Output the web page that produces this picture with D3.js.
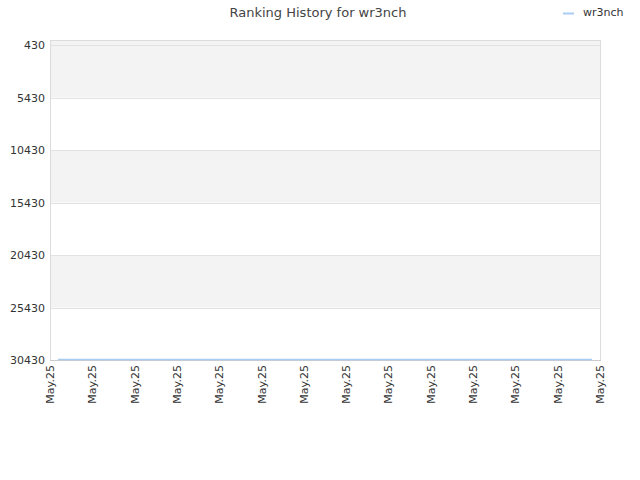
<!DOCTYPE html>
<html><head><meta charset="utf-8">
<script src="https://cdn.jsdelivr.net/npm/d3@7"></script>
<style>body{margin:0;background:#fff}svg{display:block}text{font-family:"DejaVu Sans",sans-serif}</style>
</head><body>
<svg id="c" width="640" height="480"></svg>
<script>
const xLabels = ["May.25","May.25","May.25","May.25","May.25","May.25","May.25","May.25","May.25","May.25","May.25","May.25","May.25","May.25"];
const yTicks = [430, 5430, 10430, 15430, 20430, 25430, 30430];
const seriesName = "wr3nch";
const ranks = [30390,30390,30390,30390,30390,30390,30390,30390,30390,30390,30390,30390,30390];

const svg = d3.select("#c");
const L = 50, R = 600, T = 40, B = 360;
const y = d3.scaleLinear().domain([0, 30430]).range([T + 0.5, B]);
const xl = d3.scalePoint().domain(d3.range(xLabels.length)).range([L, R]);
const xd = d3.scaleLinear().domain([0, ranks.length - 1]).range([58, 592]);

// bands
for (let i = 0; i < yTicks.length - 1; i++) {
  if (i % 2 === 0) {
    const y0 = i === 0 ? T : y(yTicks[i]);
    svg.append("rect").attr("x", L).attr("y", y0).attr("width", R - L).attr("height", y(yTicks[i + 1]) - y0).attr("fill", "#f3f3f3");
  }
}
// grid
svg.append("g").selectAll("line").data(yTicks).join("line")
  .attr("x1", L).attr("x2", R).attr("y1", d => Math.round(y(d)) + 0.5).attr("y2", d => Math.round(y(d)) + 0.5)
  .attr("stroke", "#e2e2e2");
// frame
svg.append("rect").attr("x", L + 0.5).attr("y", T + 0.5).attr("width", R - L).attr("height", B - T)
  .attr("fill", "none").attr("stroke", "#dcdcdc");
svg.append("line").attr("x1", L).attr("x2", R + 1).attr("y1", B + 0.5).attr("y2", B + 0.5).attr("stroke", "#cccccc");

// y axis labels
svg.append("g").selectAll("text").data(yTicks).join("text")
  .attr("x", L - 5).attr("y", d => y(d) + 4).attr("text-anchor", "end")
  .attr("font-size", 11).attr("fill", "#333").text(d => d);

// x labels
svg.append("g").selectAll("text").data(xLabels).join("text")
  .attr("transform", (d, i) => `translate(${xl(i) + 4},${B + 5}) rotate(-90)`)
  .attr("text-anchor", "end").attr("font-size", 11).attr("fill", "#333").text(d => d);

// line
svg.append("path").datum(ranks)
  .attr("d", d3.line().x((d, i) => xd(i)).y(d => y(d)))
  .attr("fill", "none").attr("stroke", "#a8ccf2").attr("stroke-width", 1.5);

// title
svg.append("text").attr("x", 318).attr("y", 17).attr("text-anchor", "middle")
  .attr("font-size", 13).attr("fill", "#444").text("Ranking History for " + seriesName);

// legend
svg.append("line").attr("x1", 563).attr("x2", 574).attr("y1", 13.5).attr("y2", 13.5).attr("stroke", "#a8ccf2").attr("stroke-width", 2);
svg.append("text").attr("x", 583).attr("y", 16).attr("font-size", 11).attr("fill", "#333").text(seriesName);
</script>
</body></html>
